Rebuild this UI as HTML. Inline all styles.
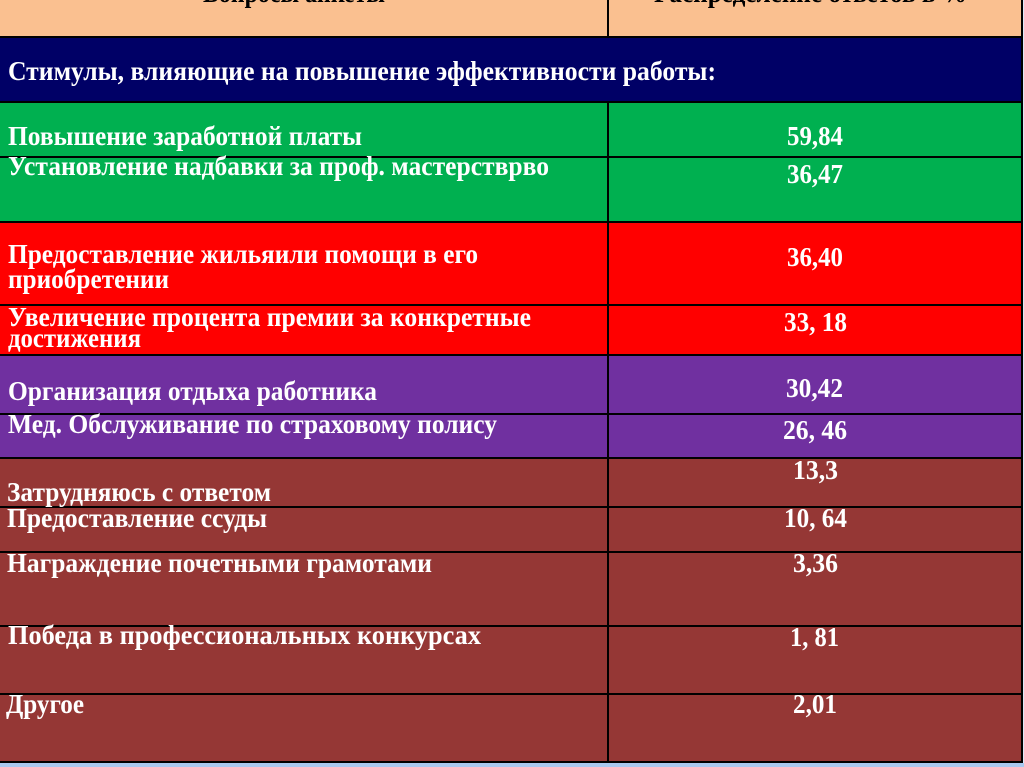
<!DOCTYPE html>
<html>
<head>
<meta charset="utf-8">
<style>
  html, body { margin: 0; padding: 0; background: #ffffff; }
  body { width: 1024px; height: 767px; overflow: hidden; }
  svg { display: block; }
  text { font-family: "Liberation Serif", "DejaVu Serif", serif; font-weight: bold; font-size: 27px; fill: #ffffff; }
  .h { fill: #000000; }
</style>
</head>
<body>
<svg width="1024" height="767" viewBox="0 0 1024 767" xmlns="http://www.w3.org/2000/svg">
  <!-- background strips -->
  <rect x="0" y="0" width="1024" height="767" fill="#dfe9f7"/>
  <rect x="0" y="763" width="1024" height="4" fill="#a9c9ef"/>

  <!-- row fills -->
  <rect x="0" y="0" width="1022" height="37" fill="#fac090"/>
  <rect x="0" y="37" width="1022" height="65" fill="#000066"/>
  <rect x="0" y="102" width="1022" height="120" fill="#00b050"/>
  <rect x="0" y="222" width="1022" height="133" fill="#ff0000"/>
  <rect x="0" y="355" width="1022" height="103" fill="#7030a0"/>
  <rect x="0" y="458" width="1022" height="305" fill="#953735"/>

  <!-- horizontal borders -->
  <g fill="#000000">
    <rect x="0" y="36" width="1022" height="2"/>
    <rect x="0" y="101" width="1022" height="2"/>
    <rect x="0" y="156" width="1022" height="2"/>
    <rect x="0" y="221" width="1022" height="2"/>
    <rect x="0" y="304" width="1022" height="2"/>
    <rect x="0" y="354" width="1022" height="2"/>
    <rect x="0" y="413" width="1022" height="2"/>
    <rect x="0" y="457" width="1022" height="2"/>
    <rect x="0" y="506" width="1022" height="2"/>
    <rect x="0" y="551" width="1022" height="2"/>
    <rect x="0" y="625" width="1022" height="2"/>
    <rect x="0" y="693" width="1022" height="2"/>
    <rect x="0" y="761" width="1023" height="2"/>
    <!-- vertical borders -->
    <rect x="607" y="0" width="2" height="37"/>
    <rect x="607" y="102" width="2" height="661"/>
    <rect x="1021" y="0" width="2" height="763"/>
  </g>

  <!-- header (cut off at top) -->
  <text class="h" x="203" y="2" textLength="182" lengthAdjust="spacingAndGlyphs">Вопросы анкеты</text>
  <text class="h" x="654" y="2" textLength="313" lengthAdjust="spacingAndGlyphs">Распределение ответов в %</text>

  <!-- title -->
  <text x="8" y="80" textLength="708" lengthAdjust="spacingAndGlyphs">Стимулы, влияющие на повышение эффективности работы:</text>

  <!-- left column -->
  <text x="8" y="145" textLength="354" lengthAdjust="spacingAndGlyphs">Повышение заработной платы</text>
  <text x="8" y="175" textLength="541" lengthAdjust="spacingAndGlyphs">Установление надбавки за проф. мастерстврво</text>
  <text x="8" y="263" textLength="470" lengthAdjust="spacingAndGlyphs">Предоставление жильяили помощи в его</text>
  <text x="8" y="288" textLength="161" lengthAdjust="spacingAndGlyphs">приобретении</text>
  <text x="8" y="326" textLength="523" lengthAdjust="spacingAndGlyphs">Увеличение процента премии за конкретные</text>
  <text x="8" y="347" textLength="133" lengthAdjust="spacingAndGlyphs">достижения</text>
  <text x="8" y="400" textLength="369" lengthAdjust="spacingAndGlyphs">Организация отдыха работника</text>
  <text x="8" y="433" textLength="489" lengthAdjust="spacingAndGlyphs">Мед. Обслуживание по страховому полису</text>
  <text x="7" y="501" textLength="264" lengthAdjust="spacingAndGlyphs">Затрудняюсь с ответом</text>
  <text x="7" y="527" textLength="260" lengthAdjust="spacingAndGlyphs">Предоставление ссуды</text>
  <text x="7" y="572" textLength="425" lengthAdjust="spacingAndGlyphs">Награждение почетными грамотами</text>
  <text x="8" y="644" textLength="473" lengthAdjust="spacingAndGlyphs">Победа в профессиональных конкурсах</text>
  <text x="6" y="713" textLength="78" lengthAdjust="spacingAndGlyphs">Другое</text>

  <!-- right column values -->
  <text x="787" y="145" textLength="56" lengthAdjust="spacingAndGlyphs">59,84</text>
  <text x="787" y="183" textLength="56" lengthAdjust="spacingAndGlyphs">36,47</text>
  <text x="787" y="266" textLength="56" lengthAdjust="spacingAndGlyphs">36,40</text>
  <text x="784" y="331" textLength="63" lengthAdjust="spacingAndGlyphs">33, 18</text>
  <text x="786" y="397" textLength="57" lengthAdjust="spacingAndGlyphs">30,42</text>
  <text x="783" y="439" textLength="64" lengthAdjust="spacingAndGlyphs">26, 46</text>
  <text x="793" y="479" textLength="45" lengthAdjust="spacingAndGlyphs">13,3</text>
  <text x="784" y="527" textLength="63" lengthAdjust="spacingAndGlyphs">10, 64</text>
  <text x="793" y="572" textLength="45" lengthAdjust="spacingAndGlyphs">3,36</text>
  <text x="790" y="646" textLength="49" lengthAdjust="spacingAndGlyphs">1, 81</text>
  <text x="793" y="713" textLength="44" lengthAdjust="spacingAndGlyphs">2,01</text>
</svg>
</body>
</html>
